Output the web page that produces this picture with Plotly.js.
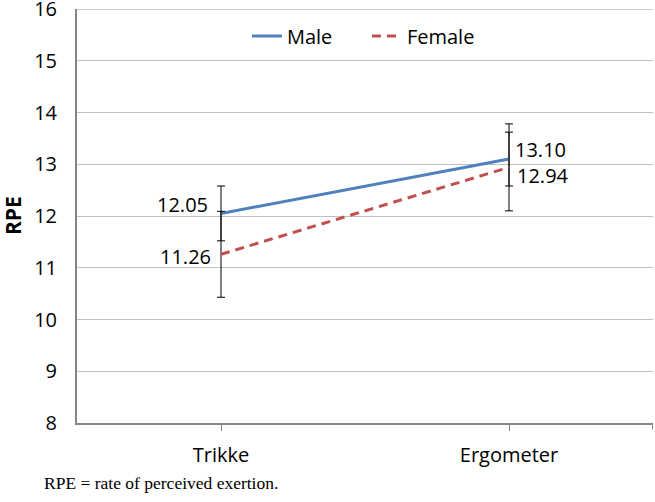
<!DOCTYPE html>
<html>
<head>
<meta charset="utf-8">
<script src="https://cdn.plot.ly/plotly-3.0.1.min.js"></script>
<style>
  body { margin: 0; background: #fff; }
  #chart { width: 655px; height: 502px; }
</style>
</head>
<body>
<div id="chart"></div>
<script>
// categories on the x axis
const conditions = ['Trikke', 'Ergometer'];

// mean RPE per condition
const maleRpe = [12.05, 13.10];
const femaleRpe = [11.26, 12.94];

// error bar half-widths
const maleErr = [0.53, 0.52];
const femaleErr = [0.83, 0.84];

// y axis ticks
const rpeTicks = [8, 9, 10, 11, 12, 13, 14, 15, 16];

const maleColor = '#4F81BD';
const femaleColor = '#C0504D';
const gridColor = '#BFBFBF';
const labelFont = {family: 'Open Sans, sans-serif', size: 20, color: '#000'};

const maleTrace = {
    x: conditions,
    y: maleRpe,
    name: 'Male',
    type: 'scatter',
    mode: 'lines',
    line: {color: maleColor, width: 3},
    error_y: {type: 'data', array: maleErr, visible: true, color: '#000', thickness: 1, width: 4}
};

const femaleTrace = {
    x: conditions,
    y: femaleRpe,
    name: 'Female',
    type: 'scatter',
    mode: 'lines',
    line: {color: femaleColor, width: 3, dash: '9px,6px'},
    error_y: {type: 'data', array: femaleErr, visible: true, color: '#000', thickness: 1, width: 4}
};

// value labels: left of the point for Trikke, right of it for Ergometer
const labelShifts = {
    male: [{xs: -11, ys: 9, anchor: 'right'}, {xs: 4, ys: 10, anchor: 'left'}],
    female: [{xs: -8, ys: -2, anchor: 'right'}, {xs: 6, ys: -8, anchor: 'left'}]
};

const annotations = [];
for (let i = 0; i < conditions.length; i++) {
    annotations.push({
        x: conditions[i], y: maleRpe[i], text: maleRpe[i].toFixed(2),
        showarrow: false, xanchor: labelShifts.male[i].anchor,
        xshift: labelShifts.male[i].xs, yshift: labelShifts.male[i].ys, font: labelFont
    });
    annotations.push({
        x: conditions[i], y: femaleRpe[i], text: femaleRpe[i].toFixed(2),
        showarrow: false, xanchor: labelShifts.female[i].anchor,
        xshift: labelShifts.female[i].xs, yshift: labelShifts.female[i].ys, font: labelFont
    });
}

// y axis title and footnote
annotations.push({
    xref: 'paper', yref: 'paper', x: 0, y: 0.5, xanchor: 'center', yanchor: 'middle', xshift: -64,
    text: '<b>RPE</b>', textangle: -90, showarrow: false,
    font: {family: 'Open Sans, sans-serif', size: 21, color: '#000'}
});
annotations.push({
    xref: 'paper', yref: 'paper', x: 0, y: 0, xanchor: 'left', yanchor: 'middle',
    xshift: -35, yshift: -60,
    text: 'RPE = rate of perceived exertion.', showarrow: false,
    font: {family: 'Liberation Serif, Times New Roman, serif', size: 17.5, color: '#000'}
});

const layout = {
    width: 655,
    height: 502,
    margin: {l: 77, r: 2, t: 9, b: 79},
    paper_bgcolor: '#fff',
    plot_bgcolor: '#fff',
    font: {family: 'Open Sans, sans-serif', size: 20, color: '#000'},
    showlegend: true,
    legend: {
        orientation: 'h', x: 0.295, y: 0.935, xanchor: 'left', yanchor: 'middle',
        entrywidth: 75,
        font: {family: 'Open Sans, sans-serif', size: 20, color: '#000'},
        bgcolor: 'rgba(0,0,0,0)'
    },
    xaxis: {
        type: 'category',
        range: [-0.5, 1.5],
        showgrid: false,
        showline: true,
        linecolor: '#868686',
        linewidth: 2,
        ticks: 'outside',
        ticklen: 6,
        tickcolor: '#868686',
        ticklabelstandoff: 7,
        zeroline: false
    },
    yaxis: {
        range: [8, 16],
        tickvals: rpeTicks,
        ticklabeloverflow: 'allow',
        showgrid: true,
        gridcolor: gridColor,
        gridwidth: 1,
        showline: true,
        linecolor: '#868686',
        linewidth: 2,
        ticks: '',
        ticklabelstandoff: 14,
        zeroline: false
    },
    shapes: [
        // top gridline at the edge of the range
        {type: 'line', xref: 'paper', yref: 'y', x0: 0, x1: 1, y0: 16, y1: 16,
         line: {color: gridColor, width: 1.5}, layer: 'below'},
        // closing tick at the right end of the x axis
        {type: 'line', xref: 'x', yref: 'paper', x0: 1.5, x1: 1.5, y0: 0, y1: -0.015,
         line: {color: '#868686', width: 2}}
    ],
    annotations: annotations
};

Plotly.newPlot('chart', [maleTrace, femaleTrace], layout, {staticPlot: true});
</script>
</body>
</html>
